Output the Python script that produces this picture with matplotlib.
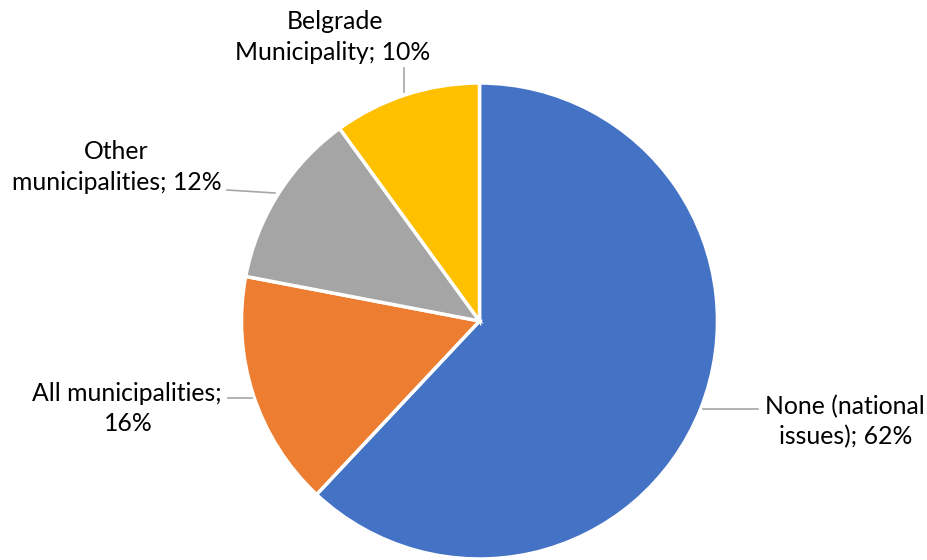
import matplotlib.pyplot as plt

labels = [["None (national", "issues); 62%"], ["All municipalities;", "16%"],
          ["Other", "municipalities; 12%"], ["Belgrade", "Municipality; 10%"]]
values = [62, 16, 12, 10]
colors = ["#4472C4", "#ED7D31", "#A5A5A5", "#FFC000"]

# label layout in pixels (y from top): centre x of each line, baseline of each line
line_x = [(845, 846), (127, 128), (116, 117), (335, 333)]
line_y = [(414, 444), (401, 431), (159, 190), (29, 60)]
leaders = [((758, 409), (703, 409)), ((228, 398), (252, 398)),
           ((227, 190), (275, 193)), ((404, 68), (404, 92))]

W, H = 928, 560
fig = plt.figure(figsize=(W / 100, H / 100), dpi=100)
ax = fig.add_axes([0, 0, 1, 1])

ax.pie(values, colors=colors, startangle=90, counterclock=False,
       center=(479.5, H - 321), radius=238, frame=True,
       wedgeprops=dict(edgecolor="white", linewidth=2.5))
ax.set_xlim(0, W)
ax.set_ylim(0, H)
ax.set_aspect("auto")
ax.axis("off")

for lines, xs, ys, (p0, p1) in zip(labels, line_x, line_y, leaders):
    ax.plot([p0[0], p1[0]], [H - p0[1], H - p1[1]], color="#A6A6A6", lw=1.2)
    for s, x, y in zip(lines, xs, ys):
        ax.text(x, H - y, s, ha="center", va="baseline", fontsize=17.8,
                family="Lato", color="black")

fig.savefig("out.png", dpi=100)
